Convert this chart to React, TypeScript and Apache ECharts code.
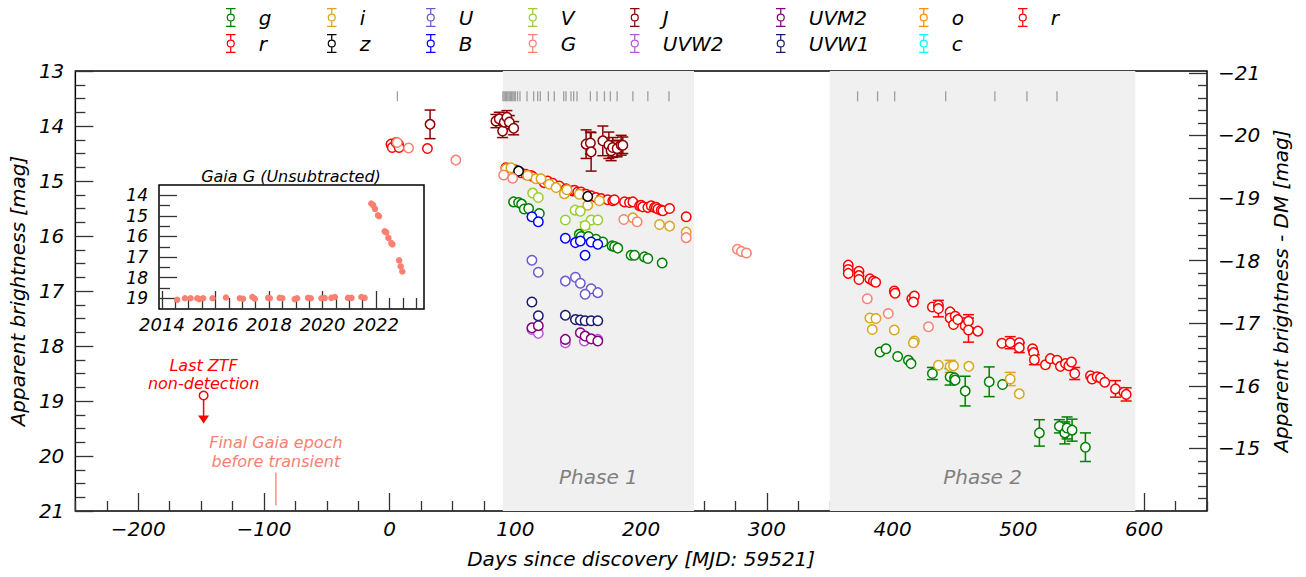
import React, { useEffect, useRef } from 'react';
import * as echarts from 'echarts';

const FONT = 'DejaVu Sans';

// ---- data: [days since discovery, mag, error] ----
const gData = [
  [98.5, 15.38, 0], [102.5, 15.39, 0], [104.9, 15.42, 0], [107, 15.51, 0], [110.5, 15.5, 0], [119, 15.59, 0],
  [150.8, 15.97, 0], [152.2, 16.01, 0], [158, 16.01, 0], [164.1, 16.06, 0], [169.5, 16.11, 0], [176.9, 16.18, 0],
  [178.8, 16.19, 0], [181.4, 16.22, 0], [192, 16.35, 0], [194.7, 16.35, 0], [202.6, 16.38, 0], [205.3, 16.41, 0],
  [216.7, 16.49, 0],
  [389.9, 18.11, 0], [394.7, 18.05, 0], [404, 18.19, 0], [412.5, 18.26, 0], [414.6, 18.32, 0], [431.6, 18.5, 0.11],
  [445.7, 18.56, 0.15], [449.2, 18.58, 0], [449.7, 18.62, 0], [457.7, 18.82, 0.27], [476.8, 18.65, 0.27],
  [487.4, 18.7, 0], [516.7, 19.58, 0.24], [532.6, 19.46, 0.12], [536.9, 19.58, 0.2], [538.7, 19.49, 0.2],
  [542.7, 19.53, 0.2], [553.3, 19.84, 0.26],
];
const rData = [
  [1, 14.33, 0], [2, 14.39, 0], [5, 14.3, 0], [7, 14.33, 0], [7.5, 14.39, 0], [30, 14.41, 0],
  [92.4, 14.76, 0], [100.4, 14.8, 0], [104.4, 14.85, 0], [108.4, 14.88, 0], [112.3, 14.9, 0], [113.7, 14.92, 0],
  [120.3, 14.97, 0], [123, 15.03, 0], [125.6, 15.0, 0], [129.6, 15.04, 0], [134.9, 15.09, 0], [140.3, 15.14, 0],
  [145.6, 15.18, 0], [146.9, 15.17, 0], [149.5, 15.2, 0], [152.2, 15.2, 0], [154.8, 15.24, 0], [156.2, 15.24, 0],
  [160.2, 15.27, 0], [164.1, 15.3, 0], [168.1, 15.32, 0], [173.4, 15.34, 0], [177.4, 15.36, 0], [178.7, 15.34, 0],
  [186.7, 15.38, 0], [190.7, 15.39, 0], [193.4, 15.38, 0], [198.7, 15.45, 0], [200, 15.44, 0], [201.3, 15.47, 0],
  [205.3, 15.48, 0], [208, 15.45, 0], [210.6, 15.48, 0], [212, 15.48, 0], [213.3, 15.51, 0], [215.9, 15.53, 0],
  [217.3, 15.54, 0], [222.6, 15.5, 0], [235.8, 15.65, 0],
];
const r2Data = [
  [364.7, 16.53, 0], [364.7, 16.61, 0], [364.7, 16.68, 0], [373.2, 16.64, 0], [373.2, 16.72, 0], [373.2, 16.79, 0],
  [381.9, 16.78, 0], [384.6, 16.82, 0], [386.5, 16.84, 0], [401.3, 17.0, 0], [401.9, 17.04, 0], [415.2, 17.14, 0],
  [417.3, 17.09, 0], [416.5, 17.2, 0], [431.6, 17.29, 0], [436.4, 17.26, 0], [436.4, 17.32, 0.15], [445.7, 17.38, 0],
  [445.7, 17.49, 0], [448.4, 17.61, 0], [449.7, 17.46, 0], [451.8, 17.52, 0], [457.7, 17.63, 0], [460.3, 17.55, 0.12],
  [460.3, 17.71, 0.22], [467.8, 17.73, 0], [486.9, 17.95, 0], [493.5, 17.94, 0.11], [500.7, 17.94, 0],
  [500.7, 18.03, 0.09], [511.3, 18.05, 0], [512.1, 18.12, 0], [512.7, 18.25, 0.09], [521.5, 18.34, 0],
  [525.4, 18.23, 0], [530.8, 18.26, 0], [533.4, 18.37, 0], [537.4, 18.32, 0], [540.1, 18.36, 0], [542.2, 18.29, 0],
  [544.8, 18.5, 0.11], [557.3, 18.54, 0], [558.6, 18.6, 0], [562.6, 18.56, 0], [565.3, 18.58, 0], [568.7, 18.66, 0],
  [577.2, 18.78, 0.15], [583.9, 18.84, 0], [585.7, 18.88, 0.12],
];
const iData = [
  [92.4, 14.78, 0], [96.4, 14.76, 0.05], [109.7, 14.9, 0], [116.3, 14.96, 0], [120.3, 14.96, 0], [127, 15.06, 0],
  [132.3, 15.12, 0], [138.9, 15.23, 0], [141, 15.16, 0], [150.8, 15.24, 0], [157.5, 15.44, 0], [166.8, 15.36, 0],
  [193.4, 15.67, 0], [214.6, 15.79, 0], [222.6, 15.82, 0], [235.8, 15.93, 0],
  [381.9, 17.49, 0], [386.7, 17.5, 0], [383.8, 17.7, 0], [401.3, 17.71, 0], [417.3, 17.91, 0], [416.5, 17.94, 0],
  [436.4, 18.35, 0], [445.7, 18.37, 0.11], [448.4, 18.36, 0], [460.6, 18.37, 0], [493.5, 18.6, 0.12],
  [500.7, 18.87, 0],
];
const zData = [[102.5, 14.82, 0], [157.5, 15.28, 0]];
const UData = [
  [113.1, 16.44, 0], [118.2, 16.66, 0], [139.7, 16.82, 0], [147.7, 16.75, 0], [151.6, 16.86, 0], [160.2, 16.96, 0],
  [155.4, 17.06, 0], [165.5, 17.03, 0],
];
const BData = [
  [113.1, 15.65, 0], [118.2, 15.74, 0], [139.7, 16.04, 0], [147.7, 16.12, 0], [151.6, 16.09, 0], [160.2, 16.11, 0],
  [165.5, 16.15, 0], [155.4, 16.35, 0],
];
const VData = [
  [113.7, 15.22, 0], [118.2, 15.3, 0], [147.4, 15.53, 0], [151.6, 15.55, 0], [139.7, 15.71, 0], [160.2, 15.71, 0],
  [165.5, 15.71, 0], [155.4, 15.81, 0.06],
];
const GData = [
  [6, 14.3, 0], [15, 14.4, 0], [52.6, 14.62, 0], [90.6, 14.89, 0], [97.8, 14.95, 0], [186.2, 15.7, 0],
  [196.8, 15.74, 0], [235.8, 16.03, 0], [276.5, 16.24, 0], [279.7, 16.28, 0], [283.7, 16.31, 0],
  [379.8, 17.14, 0], [396.5, 17.41, 0], [428.5, 17.65, 0],
];
const JData = [
  [32.1, 13.97, 0.26], [84.5, 13.91, 0.12], [87.1, 13.87, 0.12], [89.8, 14.09, 0.12], [91.1, 13.93, 0.12],
  [93.2, 13.84, 0.12], [95.1, 13.93, 0.12], [98.6, 14.04, 0.12], [156.2, 14.33, 0.26], [159.6, 14.31, 0.2],
  [160.2, 14.47, 0.35], [169.5, 14.27, 0.27], [174.3, 14.35, 0.24], [176.1, 14.45, 0.18], [177.4, 14.39, 0.18],
  [180.9, 14.41, 0.15], [184.1, 14.35, 0.18], [185.4, 14.35, 0.15],
];
const UVW2Data = [[113.1, 17.7, 0], [118.2, 17.77, 0], [139.7, 17.94, 0], [154.8, 17.91, 0], [165.5, 17.88, 0]];
const UVM2Data = [
  [113.1, 17.67, 0], [118.2, 17.63, 0], [139.7, 17.88, 0], [151.6, 17.76, 0], [155.4, 17.82, 0], [160.2, 17.87, 0],
  [165.5, 17.91, 0],
];
const UVW1Data = [
  [113.1, 17.2, 0], [118.2, 17.45, 0], [139.7, 17.44, 0], [147.7, 17.52, 0], [151.6, 17.53, 0], [155.4, 17.54, 0],
  [160.2, 17.54, 0], [165.5, 17.54, 0],
];
const oData: number[][] = [];
const cData: number[][] = [];

// spectroscopic epochs (days)
const spectraDays = [
  6.1, 90, 91, 92, 93, 94, 95, 96, 97, 98, 99, 100, 101.7, 103.6, 109.2, 114.5, 117.7, 119.8, 126.2, 130.9, 138.4,
  140.2, 144.2, 146.3, 149, 159.6, 164.9, 170.8, 175.5, 180.9, 193.4, 205.3, 222.1,
  372.1, 388, 401.6, 442.2, 481.3, 506.8, 530.7,
];
const spectraMag = 13.46;

const phases = [
  { name: 'Phase 1', start: 90, end: 242 },
  { name: 'Phase 2', start: 350, end: 593 },
];

// last ZTF non-detection: [day, mag, arrow tip mag]
const ztfLimit = [[-148, 18.9, 19.41]];
// final Gaia epoch before transient: [day, line top mag, line bottom mag]
const gaiaFinal = [[-90.5, 20.3, 20.9]];

// inset Gaia G (unsubtracted)
const gaiaYear = [
  2014.57, 2014.86, 2015.07, 2015.32, 2015.39, 2015.54, 2015.89, 2016.39, 2016.91, 2017.03, 2017.38, 2017.47,
  2017.97, 2018.03, 2018.4, 2018.5, 2018.96, 2019.05, 2019.46, 2019.56, 2019.96, 2020.08, 2020.33, 2020.46,
  2020.95, 2021.08, 2021.45, 2021.57, 2021.82, 2021.89, 2021.96, 2022.07, 2022.11, 2022.32, 2022.38, 2022.46,
  2022.57, 2022.61, 2022.86, 2022.92, 2022.98,
];
const gaiaMag = [
  19.07, 19.0, 19.0, 19.0, 19.04, 19.0, 19.0, 18.96, 19.0, 19.02, 18.94, 19.02, 18.98, 19.0, 18.98, 19.0, 19.04,
  19.0, 18.98, 19.0, 19.0, 18.99, 18.98, 18.94, 18.98, 18.98, 18.94, 18.98, 14.4, 14.48, 14.66, 14.97, 15.02,
  15.75, 15.8, 16.07, 16.32, 16.38, 17.16, 17.45, 17.7,
];

const bands = [
  { name: 'g', color: '#008000', data: gData },
  { name: 'r', color: '#ff0000', data: rData },
  { name: 'i', color: '#daa520', data: iData },
  { name: 'z', color: '#000000', data: zData },
  { name: 'U', color: '#6a5acd', data: UData },
  { name: 'B', color: '#0000ff', data: BData },
  { name: 'V', color: '#9acd32', data: VData },
  { name: 'G', color: '#fa8072', data: GData },
  { name: 'J', color: '#8b0000', data: JData },
  { name: 'UVW2', color: '#ba55d3', data: UVW2Data },
  { name: 'UVM2', color: '#800080', data: UVM2Data },
  { name: 'UVW1', color: '#191970', data: UVW1Data },
  { name: 'o', color: '#ff8c00', data: oData },
  { name: 'c', color: '#00ffff', data: cData },
  { name: 'r2', color: '#ff0000', data: r2Data },
];

const ICON =
  'path://M1,0H11V1.3H1Z M5.35,0H6.65V6.2H5.35Z M5.35,13.8H6.65V20H5.35Z M1,18.7H11V20H1Z ' +
  'M1.7,10A4.3,4.3 0 1,1 10.3,10A4.3,4.3 0 1,1 1.7,10Z M3,10A3,3 0 1,0 9,10A3,3 0 1,0 3,10Z';

function range(a: number, b: number, step: number) {
  const out: number[] = [];
  for (let v = a; v <= b + 1e-9; v += step) out.push(Math.round(v * 1000) / 1000);
  return out;
}
const minus = (v: number) => (v < 0 ? '\u2212' + Math.abs(v) : String(v));
const plain = (v: number) => String(v);

function errRender(color: string) {
  return (params: any, api: any) => {
    const x = api.value(0);
    const y = api.value(1);
    const e = api.value(2);
    const t = api.coord([x, y - e]);
    const b = api.coord([x, y + e]);
    const hw = 5.5;
    const style = { stroke: color, lineWidth: 1.5, fill: 'none' };
    return {
      type: 'group',
      children: [
        { type: 'line', shape: { x1: t[0], y1: t[1], x2: b[0], y2: b[1] }, style },
        { type: 'line', shape: { x1: t[0] - hw, y1: t[1], x2: t[0] + hw, y2: t[1] }, style },
        { type: 'line', shape: { x1: b[0] - hw, y1: b[1], x2: b[0] + hw, y2: b[1] }, style },
      ],
    };
  };
}

function buildOption() {
  const tickColor = '#333';
  const labelStyle = { fontSize: 20, fontStyle: 'italic', fontFamily: FONT, color: '#000' };
  const insetLabel = { ...labelStyle, fontSize: 17 };
  const series: any[] = [];

  // shading
  series.push({
    type: 'scatter',
    name: 'phases',
    xAxisIndex: 0,
    yAxisIndex: 0,
    data: [],
    z: 0,
    silent: true,
    markArea: {
      silent: true,
      itemStyle: { color: '#f0f0f0' },
      label: {
        position: 'insideBottom',
        distance: 24,
        color: '#808080',
        fontSize: 20,
        fontStyle: 'italic',
        fontFamily: FONT,
      },
      data: phases.map((p) => [{ name: p.name, xAxis: p.start }, { xAxis: p.end }]),
    },
  });

  // spectra epochs
  series.push({
    type: 'scatter',
    name: 'spectra',
    xAxisIndex: 0,
    yAxisIndex: 0,
    symbol: 'rect',
    symbolSize: [1.3, 10],
    itemStyle: { color: '#8a8a8a' },
    data: spectraDays.map((d) => [d, spectraMag]),
    z: 2,
    silent: true,
  });

  bands.forEach((b) => {
    series.push({
      type: 'custom',
      name: b.name,
      xAxisIndex: 0,
      yAxisIndex: 0,
      renderItem: errRender(b.color),
      encode: { x: 0, y: 1 },
      data: b.data.filter((d) => d[2] > 0),
      z: 3,
      silent: true,
    });
    series.push({
      type: 'scatter',
      name: b.name,
      xAxisIndex: 0,
      yAxisIndex: 0,
      symbol: 'circle',
      symbolSize: 9.5,
      itemStyle: { color: '#ffffff', borderColor: b.color, borderWidth: 1.5, opacity: 1 },
      data: b.data.map((d) => [d[0], d[1]]),
      z: 4,
      silent: true,
    });
  });

  // ZTF upper limit
  series.push({
    type: 'custom',
    name: 'ztfLimit',
    xAxisIndex: 0,
    yAxisIndex: 0,
    encode: { x: 0, y: 1 },
    data: ztfLimit,
    z: 5,
    silent: true,
    renderItem: (params: any, api: any) => {
      const p = api.coord([api.value(0), api.value(1)]);
      const tip = api.coord([api.value(0), api.value(2)]);
      return {
        type: 'group',
        children: [
          { type: 'line', shape: { x1: p[0], y1: p[1] + 4, x2: p[0], y2: tip[1] - 7 }, style: { stroke: '#ff0000', lineWidth: 1.5 } },
          {
            type: 'polygon',
            shape: { points: [[tip[0] - 5.5, tip[1] - 8], [tip[0] + 5.5, tip[1] - 8], [tip[0], tip[1]]] },
            style: { fill: '#ff0000' },
          },
          { type: 'circle', shape: { cx: p[0], cy: p[1], r: 4.3 }, style: { fill: '#ffffff', stroke: '#ff0000', lineWidth: 1.5 } },
          {
            type: 'text',
            style: {
              text: 'Last ZTF\nnon-detection',
              x: p[0],
              y: p[1] - 3,
              align: 'center',
              verticalAlign: 'bottom',
              fill: '#ff0000',
              fontSize: 16,
              fontStyle: 'italic',
              fontFamily: FONT,
              lineHeight: 18,
            },
          },
        ],
      };
    },
  });

  // final Gaia epoch annotation
  series.push({
    type: 'custom',
    name: 'gaiaFinal',
    xAxisIndex: 0,
    yAxisIndex: 0,
    encode: { x: 0, y: 1 },
    data: gaiaFinal,
    z: 5,
    silent: true,
    renderItem: (params: any, api: any) => {
      const t = api.coord([api.value(0), api.value(1)]);
      const b = api.coord([api.value(0), api.value(2)]);
      return {
        type: 'group',
        children: [
          { type: 'line', shape: { x1: t[0], y1: t[1], x2: b[0], y2: b[1] }, style: { stroke: '#fa8072', lineWidth: 1.3 } },
          {
            type: 'text',
            style: {
              text: 'Final Gaia epoch\nbefore transient',
              x: t[0],
              y: t[1] - 2,
              align: 'center',
              verticalAlign: 'bottom',
              fill: '#fa8072',
              fontSize: 16,
              fontStyle: 'italic',
              fontFamily: FONT,
              lineHeight: 19,
            },
          },
        ],
      };
    },
  });

  // inset
  series.push({
    type: 'scatter',
    name: 'Gaia G (Unsubtracted)',
    xAxisIndex: 2,
    yAxisIndex: 4,
    symbol: 'circle',
    symbolSize: 6.5,
    itemStyle: { color: '#fa8072', opacity: 1 },
    data: gaiaYear.map((y, k) => [y, gaiaMag[k]]),
    z: 10,
    silent: true,
  });

  const colX = [232, 333, 432, 534, 636, 782, 925, 1024];
  const rowY = [17, 43];
  const legends = bands.map((b, k) => ({
    data: [{ name: b.name, icon: ICON, itemStyle: { color: b.color, borderWidth: 0 } }],
    left: colX[Math.floor(k / 2)] - 6,
    top: rowY[k % 2] - 9.5,
    padding: 0,
    itemGap: 0,
    itemWidth: 12,
    itemHeight: 19,
    selectedMode: false,
    formatter: (n: string) => (n === 'r2' ? 'r' : n),
    textStyle: { ...labelStyle, padding: [0, 0, 0, 17] },
  }));

  const xMajor = range(-200, 600, 100);
  const xMinor = range(-250, 650, 25).filter((v) => v % 100 !== 0);
  const yMajor = range(13, 21, 1);
  const yMinor = range(13, 21, 0.25).filter((v) => Math.abs(v - Math.round(v)) > 1e-6);
  const rMajor = range(-21, -15, 1);
  const rMinor = range(-21, -14.2, 0.2).filter((v) => Math.abs(v - Math.round(v)) > 1e-6);
  const ixMajor = range(2014, 2022, 2);
  const ixMinor = range(2014, 2023.5, 0.5).filter((v) => Math.abs(v / 2 - Math.round(v / 2)) > 1e-6);
  const iyMajor = range(14, 19, 1);
  const iyMinor = range(14.5, 18.5, 1);

  const tick = (vals: number[], len: number) => ({
    show: true,
    inside: true,
    length: len,
    customValues: vals,
    lineStyle: { color: tickColor, width: 1.3 },
  });
  const noLine = { show: false, onZero: false };

  return {
    animation: false,
    backgroundColor: '#ffffff',
    textStyle: { fontFamily: FONT, fontStyle: 'italic' },
    title: {
      text: 'Gaia G (Unsubtracted)',
      left: 291,
      top: 168,
      textAlign: 'center',
      padding: 0,
      textStyle: { fontSize: 16, fontStyle: 'italic', fontWeight: 'normal', fontFamily: FONT, color: '#000' },
    },
    legend: legends,
    grid: [
      { left: 75, top: 71, right: 99, bottom: 66, show: true, borderColor: '#000', borderWidth: 1.5, backgroundColor: 'transparent' },
      { left: 159, top: 185, width: 265, height: 124, show: true, borderColor: '#000', borderWidth: 1.5, backgroundColor: '#ffffff', z: 6 },
    ],
    xAxis: [
      {
        gridIndex: 0, type: 'value', min: -250, max: 650, position: 'bottom',
        axisLine: noLine, splitLine: { show: false },
        axisTick: tick(xMajor, 18),
        axisLabel: { ...labelStyle, customValues: xMajor, formatter: minus, margin: 8 },
        name: 'Days since discovery [MJD: 59521]', nameLocation: 'middle', nameGap: 38,
        nameTextStyle: { ...labelStyle },
      },
      {
        gridIndex: 0, type: 'value', min: -250, max: 650, position: 'bottom',
        axisLine: noLine, splitLine: { show: false },
        axisTick: tick(xMinor, 10), axisLabel: { show: false },
      },
      {
        gridIndex: 1, type: 'value', min: 2013.89, max: 2023.79, position: 'bottom', z: 7,
        axisLine: noLine, splitLine: { show: false },
        axisTick: tick(ixMajor, 18),
        axisLabel: { ...insetLabel, fontSize: 18, customValues: ixMajor, formatter: plain, margin: 6, hideOverlap: false },
      },
      {
        gridIndex: 1, type: 'value', min: 2013.89, max: 2023.79, position: 'bottom', z: 7,
        axisLine: noLine, splitLine: { show: false },
        axisTick: tick(ixMinor, 11), axisLabel: { show: false },
      },
    ],
    yAxis: [
      {
        gridIndex: 0, type: 'value', min: 13, max: 21, inverse: true, position: 'left',
        axisLine: noLine, splitLine: { show: false },
        axisTick: tick(yMajor, 18),
        axisLabel: { ...labelStyle, customValues: yMajor, margin: 11 },
        name: 'Apparent brightness [mag]', nameLocation: 'middle', nameGap: 43, nameRotate: 90,
        nameTextStyle: { ...labelStyle },
      },
      {
        gridIndex: 0, type: 'value', min: 13, max: 21, inverse: true, position: 'left',
        axisLine: noLine, splitLine: { show: false },
        axisTick: tick(yMinor, 10), axisLabel: { show: false },
      },
      {
        gridIndex: 0, type: 'value', min: -21.03, max: -14.0, inverse: true, position: 'right',
        axisLine: noLine, splitLine: { show: false },
        axisTick: tick(rMajor, 18),
        axisLabel: { ...labelStyle, customValues: rMajor, formatter: minus, margin: 11 },
        name: 'Apparent brightness - DM [mag]', nameLocation: 'middle', nameGap: 64, nameRotate: 90,
        nameTextStyle: { ...labelStyle },
      },
      {
        gridIndex: 0, type: 'value', min: -21.03, max: -14.0, inverse: true, position: 'right',
        axisLine: noLine, splitLine: { show: false },
        axisTick: tick(rMinor, 9), axisLabel: { show: false },
      },
      {
        gridIndex: 1, type: 'value', min: 13.5, max: 19.52, inverse: true, position: 'left', z: 7,
        axisLine: noLine, splitLine: { show: false },
        axisTick: tick(iyMajor, 18),
        axisLabel: { ...insetLabel, customValues: iyMajor, margin: 11, lineHeight: 17 },
      },
      {
        gridIndex: 1, type: 'value', min: 13.5, max: 19.52, inverse: true, position: 'left', z: 7,
        axisLine: noLine, splitLine: { show: false },
        axisTick: tick(iyMinor, 11), axisLabel: { show: false },
      },
    ],
    series,
  };
}

export default function App() {
  const ref = useRef<HTMLDivElement>(null);
  useEffect(() => {
    if (!ref.current) return;
    const chart = echarts.init(ref.current, null, { renderer: 'svg' });
    chart.setOption(buildOption() as any);
    return () => chart.dispose();
  }, []);
  return (
    <div
      ref={ref}
      style={{ position: 'absolute', left: 0, top: 0, width: 1306, height: 577, background: '#ffffff' }}
    />
  );
}
